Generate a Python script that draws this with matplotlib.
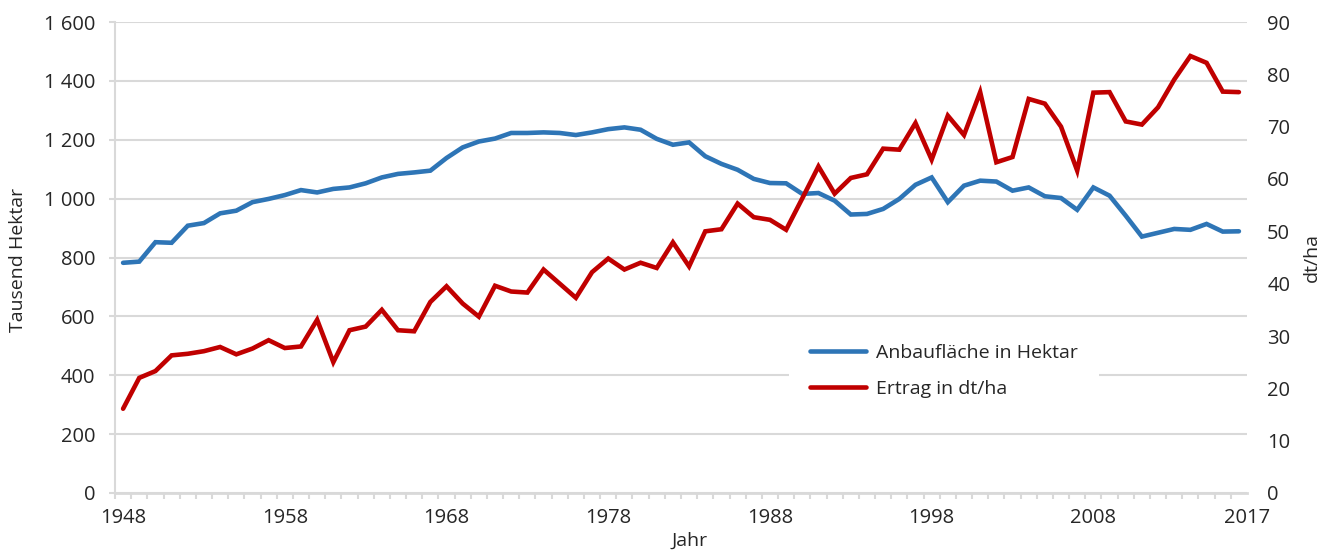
import matplotlib
matplotlib.use("Agg")
from matplotlib import pyplot as plt
from matplotlib.ticker import FuncFormatter, FixedLocator

plt.rcParams['font.family'] = ['Open Sans', 'DejaVu Sans']

# data
years = list(range(1948, 2018))
flaeche = [782, 786, 852, 850, 908, 917, 950, 959, 988, 999,
           1012, 1029, 1021, 1033, 1038, 1052, 1072, 1084, 1089, 1095,
           1138, 1174, 1194, 1204, 1223, 1223, 1225, 1223, 1216, 1225,
           1236, 1242, 1234, 1203, 1183, 1191, 1144, 1118, 1098, 1067,
           1053, 1052, 1016, 1019, 993, 946, 948, 965, 999, 1047,
           1072, 988, 1044, 1061, 1058, 1027, 1038, 1008, 1002, 962,
           1038, 1010, 942, 871, 884, 897, 894, 914, 888, 889]
ertrag = [16.1, 22.0, 23.3, 26.3, 26.6, 27.1, 27.9, 26.5, 27.6, 29.2,
          27.7, 28.0, 33.1, 25.0, 31.1, 31.8, 35.0, 31.1, 30.9, 36.5,
          39.5, 36.2, 33.7, 39.6, 38.5, 38.3, 42.7, 40.0, 37.3, 42.2,
          44.8, 42.7, 44.0, 43.0, 47.9, 43.3, 50.0, 50.4, 55.3, 52.7,
          52.2, 50.3, 56.3, 62.4, 57.2, 60.2, 60.9, 65.8, 65.6, 70.7,
          63.7, 72.1, 68.4, 76.6, 63.2, 64.2, 75.3, 74.4, 70.0, 61.6,
          76.5, 76.6, 71.0, 70.4, 73.7, 79.0, 83.5, 82.2, 76.7, 76.6]
label_years = [1948, 1958, 1968, 1978, 1988, 1998, 2008]

BLUE = '#2e75b6'
RED = '#c00000'
GRID = '#d9d9d9'
TXT = '#262626'
FS = 14.5   # tick labels
LFS = 14    # axis titles, legend

fig = plt.figure(figsize=(13.32, 5.51), dpi=100)
ax = fig.add_axes([115/1332, 1 - 493/551, 1132/1332, 471/551])
ax2 = ax.twinx()

l1, = ax.plot(years, flaeche, color=BLUE, lw=3.3, solid_capstyle='round',
              solid_joinstyle='miter', label='Anbaufläche in Hektar')
l2, = ax2.plot(years, ertrag, color=RED, lw=3.3, solid_capstyle='round',
               solid_joinstyle='miter', label='Ertrag in dt/ha')

ax.set_xlim(years[0] - 0.5, years[-1] + 0.5)
ax.set_ylim(0, 1600)
ax2.set_ylim(0, 90)
ax.set_yticks(range(0, 1601, 200))
ax2.set_yticks(range(0, 91, 10))
ax.yaxis.set_major_formatter(FuncFormatter(lambda v, p: f'{int(v):,}'.replace(',', ' ')))

ax.set_xticks(label_years + [years[-1] + 0.5])
ax.set_xticklabels([str(y) for y in label_years] + [str(years[-1])])
ax.xaxis.set_minor_locator(FixedLocator([y - 0.5 for y in years] + [years[-1] + 0.5]))
ax.tick_params(axis='x', which='major', length=0, pad=11, labelsize=FS, labelcolor=TXT)
ax.tick_params(axis='x', which='minor', length=4, width=1.5, color=GRID, direction='out')
ax.tick_params(axis='y', length=4, width=1.5, color=GRID, labelsize=FS, labelcolor=TXT, pad=10)
ax2.tick_params(axis='y', length=0, labelsize=FS, labelcolor=TXT, pad=14.5)

ax.grid(axis='y', color=GRID, lw=1.5)
ax.set_axisbelow(True)
for s in ['top', 'right']:
    ax.spines[s].set_visible(False)
for s in ['top', 'right', 'left', 'bottom']:
    ax2.spines[s].set_visible(False)
ax.spines['left'].set_color(GRID)
ax.spines['left'].set_linewidth(1.5)
ax.spines['bottom'].set_color(GRID)
ax.spines['bottom'].set_linewidth(2)

# axis titles
fig.text(18/1332, 1 - 260/551, 'Tausend Hektar', rotation=90, ha='center', va='center',
         fontsize=LFS, color=TXT)
fig.text(1312/1332, 1 - 258/551, 'dt/ha', rotation=90, ha='center', va='center',
         fontsize=LFS, color=TXT)
fig.text(690/1332, 1 - 541/551, 'Jahr', ha='center', va='center', fontsize=LFS, color=TXT)

leg = ax2.legend(handles=[l1, l2], loc='center', bbox_to_anchor=(944/1332, 1 - 371/551),
                 bbox_transform=fig.transFigure, fontsize=LFS, frameon=True,
                 handlelength=2.85, handletextpad=0.5, labelspacing=0.95,
                 borderpad=1.1, borderaxespad=0)
leg.get_frame().set_facecolor('white')
leg.get_frame().set_edgecolor('none')
leg.get_frame().set_alpha(1)
for t in leg.get_texts():
    t.set_color(TXT)

plt.savefig('out.png', dpi=100)
